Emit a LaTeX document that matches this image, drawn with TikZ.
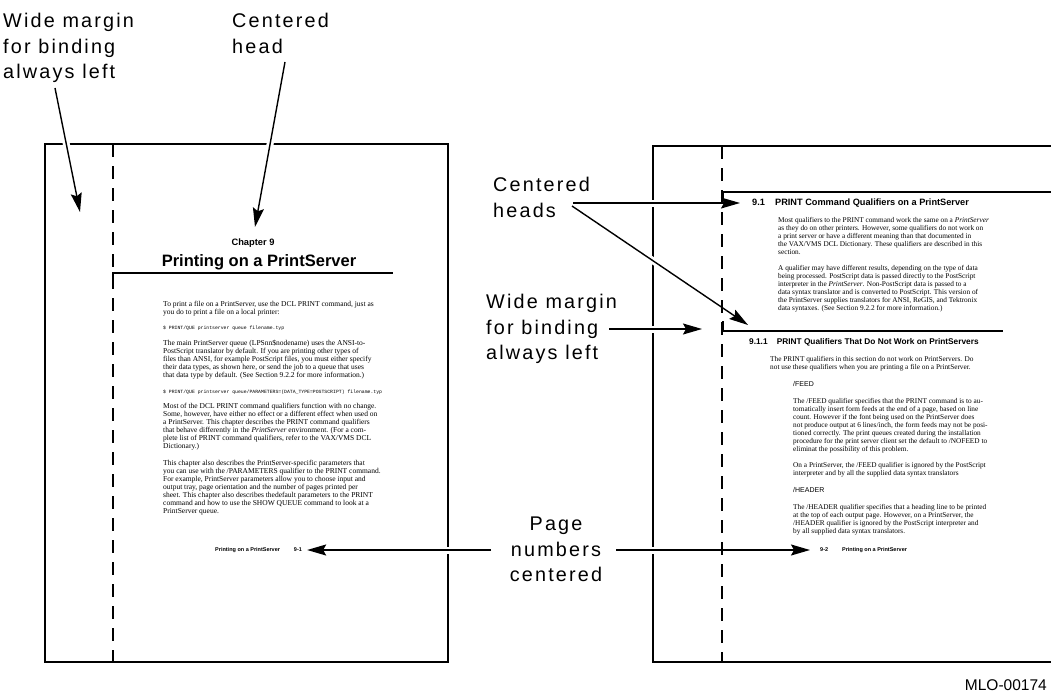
\documentclass[tikz,border=0pt]{standalone}
\usepackage{fontspec}
\setmainfont{Liberation Serif}
\newfontfamily\lblfont[LetterSpace=11]{Liberation Sans}
\newfontfamily\headfont{Liberation Sans}
\newfontfamily\codefont{Liberation Mono}
\usetikzlibrary{arrows.meta}

\tikzset{
  callout/.style={font=\lblfont\fontsize{19.8}{25.5}\selectfont, align=left, inner sep=0pt, anchor=north west},
  pageedge/.style={line width=2.6pt, line join=miter},
  marginline/.style={line width=1.5pt, dash pattern=on 13pt off 9pt},
  headrule/.style={line width=1.6pt},
  pointer/.style={line width=1.4pt, -{Stealth[length=19pt,width=11pt,inset=3pt]}},
  halo/.style={draw=white, line width=7pt},
  bodytext/.style={font=\fontsize{7.3}{8}\selectfont, align=left, inner sep=0pt, anchor=north west},
  leftbody/.style={bodytext, font=\fontsize{7.5}{8}\selectfont},
  codetext/.style={font=\codefont\fontsize{4.8}{8}\selectfont, inner sep=0pt, anchor=west},
  qualtext/.style={font=\headfont\fontsize{7}{8}\selectfont, inner sep=0pt, anchor=west},
  foottext/.style={font=\headfont\bfseries\fontsize{5.5}{7}\selectfont, inner sep=0pt, anchor=west},
}

\begin{document}
\begin{tikzpicture}[x=1pt,y=-1pt]
\useasboundingbox (0,0) rectangle (1051,698);

% ---- page outlines ----
\draw[pageedge] (45,144) rectangle (448,662);
\draw[pageedge] (1053,146) -- (653,146) -- (653,662) -- (1053,662);

% ---- arrow end points ----
\coordinate (a1s) at (55,88);   \coordinate (a1e) at (80,212);
\coordinate (a2s) at (285,62);  \coordinate (a2e) at (255,227);
\coordinate (a3s) at (573,203); \coordinate (a3e) at (740,203);
\coordinate (a4s) at (572,206); \coordinate (a4e) at (748,325);
\coordinate (a5s) at (609,329); \coordinate (a5e) at (702,329);
\coordinate (pnL) at (491,550); \coordinate (pnR) at (616,550);

% ---- page text: left page ----
\node[font=\headfont\bfseries\fontsize{9.3}{11}\selectfont, inner sep=0pt] (chap) at (253,243) {Chapter 9};
\node[font=\headfont\bfseries\fontsize{16.5}{19}\selectfont, inner sep=0pt] (title) at (259,262) {Printing on a PrintServer};

\node[leftbody] (lp1) at (163,301) {To print a file on a PrintServer, use the DCL PRINT command, just as\\
you do to print a file on a local printer:};
\node[codetext] (lc1) at (163,328) {\$ PRINT/QUE printserver queue filename.typ};
\node[leftbody] (lp2) at (163,340) {The main PrintServer queue (LPSnn\$nodename) uses the ANSI-to-\\
PostScript translator by default. If you are printing other types of\\
files than ANSI, for example PostScript files, you must either specify\\
their data types, as shown here, or send the job to a queue that uses\\
that data type by default. (See Section 9.2.2 for more information.)};
\node[codetext] (lc2) at (163,392) {\$ PRINT/QUE printserver queue/PARAMETERS=(DATA\_TYPE=POSTSCRIPT) filename.typ};
\node[leftbody] (lp3) at (163,403) {Most of the DCL PRINT command qualifiers function with no change.\\
Some, however, have either no effect or a different effect when used on\\
a PrintServer. This chapter describes the PRINT command qualifiers\\
that behave differently in the \textit{PrintServer} environment. (For a com-\\
plete list of PRINT command qualifiers, refer to the VAX/VMS DCL\\
Dictionary.)};
\node[leftbody] (lp4) at (163,460) {This chapter also describes the PrintServer-specific parameters that\\
you can use with the /PARAMETERS qualifier to the PRINT command.\\
For example, PrintServer parameters allow you to choose input and\\
output tray, page orientation and the number of pages printed per\\
sheet. This chapter also describes thedefault parameters to the PRINT\\
command and how to use the SHOW QUEUE command to look at a\\
PrintServer queue.};
\node[foottext] (foot1) at (215,550) {Printing on a PrintServer\hspace{14pt}9-1};

% ---- page text: right page ----
\node[font=\headfont\bfseries\fontsize{9.2}{11}\selectfont, inner sep=0pt, anchor=west] (h91) at (752,203)
  {9.1\hspace{1.1em}PRINT Command Qualifiers on a PrintServer};
\node[bodytext] (rp1) at (778,217) {Most qualifiers to the PRINT command work the same on a \textit{PrintServer}\\
as they do on other printers. However, some qualifiers do not work on\\
a print server or have a different meaning than that documented in\\
the VAX/VMS DCL Dictionary. These qualifiers are described in this\\
section.};
\node[bodytext] (rp2) at (778,265) {A qualifier may have different results, depending on the type of data\\
being processed. PostScript data is passed directly to the PostScript\\
interpreter in the \textit{PrintServer}. Non-PostScript data is passed to a\\
data syntax translator and is converted to PostScript. This version of\\
the PrintServer supplies translators for ANSI, ReGIS, and Tektronix\\
data syntaxes. (See Section 9.2.2 for more information.)};
\node[font=\headfont\bfseries\fontsize{8.3}{10}\selectfont, inner sep=0pt, anchor=west] (h911) at (749,342)
  {9.1.1\hspace{1.1em}PRINT Qualifiers That Do Not Work on PrintServers};
\node[bodytext] (rp3) at (770,356) {The PRINT qualifiers in this section do not work on PrintServers. Do\\
not use these qualifiers when you are printing a file on a PrintServer.};
\node[qualtext] (feed) at (793,384) {/FEED};
\node[bodytext] (rp4) at (793,398) {The /FEED qualifier specifies that the PRINT command is to au-\\
tomatically insert form feeds at the end of a page, based on line\\
count. However if the font being used on the PrintServer does\\
not produce output at 6 lines/inch, the form feeds may not be posi-\\
tioned correctly. The print queues created during the installation\\
procedure for the print server client set the default to /NOFEED to\\
eliminat the possibility of this problem.};
\node[bodytext] (rp5) at (793,462) {On a PrintServer, the /FEED qualifier is ignored by the PostScript\\
interpreter and by all the supplied data syntax translators};
\node[qualtext] (header) at (793,490) {/HEADER};
\node[bodytext] (rp6) at (793,504) {The /HEADER qualifier specifies that a heading line to be printed\\
at the top of each output page. However, on a PrintServer, the\\
/HEADER qualifier is ignored by the PostScript interpreter and\\
by all supplied data syntax translators.};
\node[foottext] (foot2) at (820,550) {9-2\hspace{14pt}Printing on a PrintServer};

% ---- callouts ----
\node[callout] (wm1) at (3,13) {Wide margin\\for binding\\always left};
\node[callout] (ch1) at (232,13) {Centered\\head};
\node[callout] (ch2) at (493,177) {Centered\\heads};
\node[callout] (wm2) at (486,294) {Wide margin\\for binding\\always left};
\node[callout, anchor=north, align=center] (pn) at (556,517) {Page\\numbers\\centered};
\node[font=\headfont\fontsize{15.5}{18}\selectfont, inner sep=0pt, anchor=east] (fig) at (1047,685) {MLO-00174};

% ---- white gaps where pointers cross the page edges ----
\draw[halo] (a1s) -- (a1e);
\draw[halo] (a2s) -- (a2e);
\draw[halo] (a3s) -- (a3e);
\draw[halo] (a4s) -- (a4e);
\draw[halo] (a5s) -- (a5e);
\draw[halo] (pnL) -- ([xshift=5pt]foot1.east);
\draw[halo] (pnR) -- ([xshift=-10pt]foot2.west);

% ---- binding margins ----
\draw[marginline] (113,144) -- (113,662);
\draw[marginline] (722,146) -- (722,662);

% ---- heading rules ----
\draw[headrule] (113,282) -- (113,273) -- (393,273);
\draw[headrule] (723,199) -- (723,192) -- (1053,192);
\draw[headrule] (723,321) -- (723,331) -- (1003,331);

% ---- pointers ----
\draw[pointer] (a1s) -- (a1e);
\draw[pointer] (a2s) -- (a2e);
\draw[pointer] (a3s) -- (a3e);
\draw[pointer] (a4s) -- (a4e);
\draw[pointer] (a5s) -- (a5e);
\draw[pointer] (pnL) -- ([xshift=5pt]foot1.east);
\draw[pointer] (pnR) -- ([xshift=-10pt]foot2.west);
\end{tikzpicture}
\end{document}
